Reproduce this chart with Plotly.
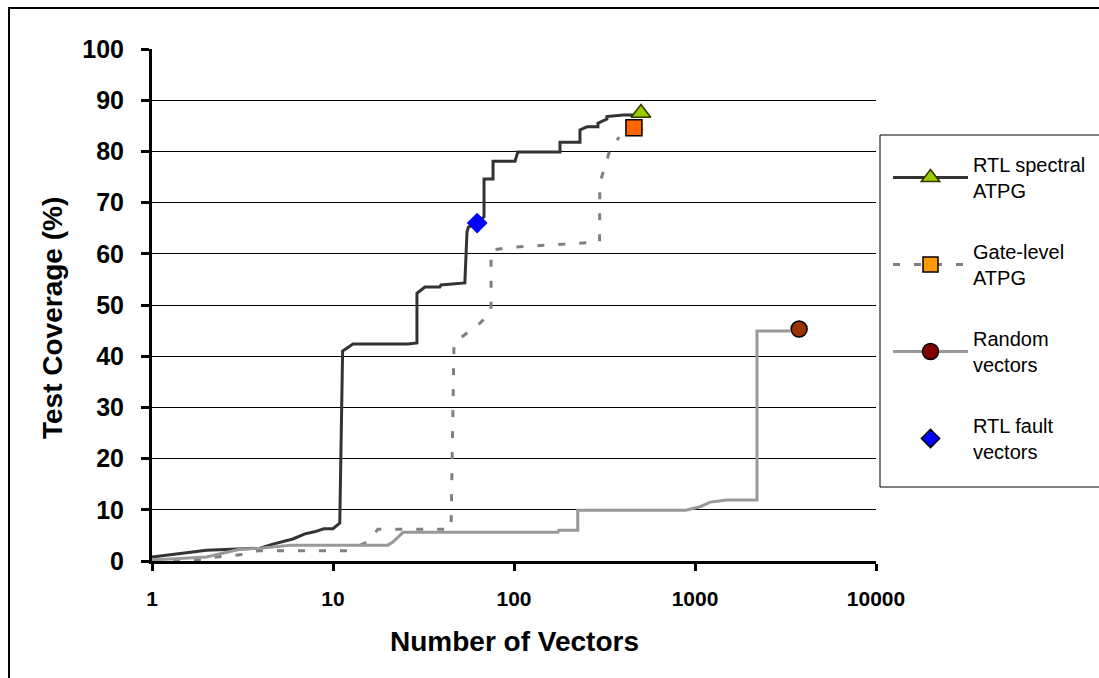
import plotly.graph_objects as go

# ---- data ----
rtl_x = [1, 2.0, 3.95, 4.66, 6.0, 7.0, 7.9, 8.9, 10.0, 10.9, 11.3, 11.8, 12.9, 25.9, 29.1, 29.1,
         32.2, 38.9, 39.5, 53.5, 55, 56, 62.6, 68.3, 68.3, 76.6, 76.6, 101.3, 105, 179.5, 179.5,
         231.5, 231.5, 253, 291, 291, 326, 326, 401, 454, 503]
rtl_y = [0.8, 2.1, 2.5, 3.3, 4.3, 5.3, 5.7, 6.3, 6.3, 7.4, 41, 41.5, 42.4, 42.4, 42.6, 52.3,
         53.5, 53.5, 53.9, 54.3, 64.3, 65.2, 66.0, 67.2, 74.6, 74.6, 78.1, 78.1, 79.9, 79.9, 81.8,
         81.8, 84.2, 84.8, 84.8, 85.5, 86.3, 86.8, 87.1, 87.1, 87.5]

gate_x = [1, 2.0, 2.28, 3.06, 3.85, 12.1, 15.4, 17.7, 43.2, 44.9, 46.6, 65.1, 74.7, 74.7,
          98.5, 224, 287, 297, 298, 318, 339, 381, 460]
gate_y = [0.2, 0.2, 0.8, 1.2, 2.0, 2.0, 3.7, 6.2, 6.2, 6.2, 42.6, 46.5, 48.6, 60.7,
          61.3, 62.1, 62.3, 62.3, 73.8, 77.0, 80.3, 82.8, 84.6]

rand_x = [1, 2.0, 3.06, 3.95, 5.9, 20.1, 21.4, 24.4, 175, 177, 225, 225, 888, 1067, 1215,
          1495, 2200, 2200, 3360, 3760]
rand_y = [0.2, 0.8, 2.3, 2.5, 3.1, 3.1, 3.7, 5.6, 5.6, 6.0, 6.0, 9.9, 9.9, 10.6, 11.5,
          11.9, 11.9, 44.9, 44.9, 45.3]

fault_x = [62.6]
fault_y = [66.0]

series_names = ["RTL spectral<br>ATPG", "Gate-level<br>ATPG", "Random<br>vectors", "RTL fault<br>vectors"]
x_ticks = [1, 10, 100, 1000, 10000]
x_tick_text = ["1", "10", "100", "1000", "10000"]
x_title = "Number of Vectors"
y_title = "Test Coverage (%)"

FONT = "Liberation Sans, Arial, sans-serif"

fig = go.Figure()

# curves
fig.add_trace(go.Scatter(x=rtl_x[:-1], y=rtl_y[:-1], mode="lines",
                         line=dict(color="#333333", width=3), showlegend=False))
fig.add_trace(go.Scatter(x=gate_x[:-1], y=gate_y[:-1], mode="lines",
                         line=dict(color="#808080", width=3, dash="7px,14px"), showlegend=False))
fig.add_trace(go.Scatter(x=rand_x[:-1], y=rand_y[:-1], mode="lines",
                         line=dict(color="#999999", width=3), showlegend=False))

# end markers
fig.add_trace(go.Scatter(x=rtl_x[-1:], y=rtl_y[-1:], mode="markers", showlegend=False,
                         marker=dict(symbol="triangle-up", size=17, color="#99cc00",
                                     line=dict(color="#333300", width=1.5))))
fig.add_trace(go.Scatter(x=gate_x[-1:], y=gate_y[-1:], mode="markers", showlegend=False,
                         marker=dict(symbol="square", size=16, color="#ff6600",
                                     line=dict(color="#000000", width=1.5))))
fig.add_trace(go.Scatter(x=rand_x[-1:], y=rand_y[-1:], mode="markers", showlegend=False,
                         marker=dict(symbol="circle", size=16, color="#993300",
                                     line=dict(color="#000000", width=1.5))))
fig.add_trace(go.Scatter(x=fault_x, y=fault_y, mode="markers", showlegend=False,
                         marker=dict(symbol="diamond", size=16, color="#0000ff",
                                     line=dict(color="#0000ff", width=0))))

# legend entries
fig.add_trace(go.Scatter(x=[None], y=[None], mode="lines+markers", name=series_names[0],
                         legendgroup="a",
                         line=dict(color="#333333", width=3),
                         marker=dict(symbol="triangle-up", size=16, color="#99cc00",
                                     line=dict(color="#333300", width=1.5))))
fig.add_trace(go.Scatter(x=[None], y=[None], mode="lines+markers", name=series_names[1],
                         legendgroup="b",
                         line=dict(color="#808080", width=3, dash="7px,14px"),
                         marker=dict(symbol="square", size=15, color="#ff9900",
                                     line=dict(color="#000000", width=1.5))))
fig.add_trace(go.Scatter(x=[None], y=[None], mode="lines+markers", name=series_names[2],
                         legendgroup="c",
                         line=dict(color="#999999", width=3),
                         marker=dict(symbol="circle", size=16, color="#800000",
                                     line=dict(color="#000000", width=1.5))))
fig.add_trace(go.Scatter(x=[None], y=[None], mode="markers", name=series_names[3],
                         legendgroup="d",
                         marker=dict(symbol="diamond", size=14, color="#0000ff",
                                     line=dict(color="#000000", width=1.5))))

W, H = 1099, 678
L, R, T, B = 152, 876, 49, 561
pw, ph = R - L, B - T

def px_x(p):
    return (p - L) / pw

def px_y(p):
    return (B - p) / ph

fig.update_layout(
    width=W, height=H,
    margin=dict(l=L, r=W - R, t=T, b=H - B, pad=0, autoexpand=False),
    paper_bgcolor="white", plot_bgcolor="white",
    font=dict(family=FONT, color="#000000"),
    showlegend=True,
    legend=dict(xref="container", yref="container",
                x=888 / W, y=1 - 145 / H, xanchor="left", yanchor="top",
                bgcolor="rgba(0,0,0,0)", borderwidth=0,
                font=dict(family=FONT, size=20, color="#000000"),
                tracegroupgap=32, itemwidth=75, valign="middle"),
    xaxis=dict(type="log", range=[0, 4], tickvals=x_ticks, ticktext=x_tick_text,
               showgrid=False, zeroline=False, showline=True, linecolor="#000000", linewidth=3,
               ticks="outside", ticklen=7, tickwidth=3, tickcolor="#000000",
               tickfont=dict(family=FONT, size=21, color="#000000", weight="bold"),
               ticklabelstandoff=10),
    yaxis=dict(range=[0, 100], dtick=10, tick0=0,
               showgrid=True, gridcolor="#000000", gridwidth=1,
               zeroline=False, showline=True, linecolor="#000000", linewidth=3,
               ticks="outside", ticklen=8, tickwidth=3, tickcolor="#000000",
               tickfont=dict(family=FONT, size=25, color="#000000", weight="bold"),
               ticklabelstandoff=12),
    annotations=[
        dict(text="<b>" + x_title + "</b>", xref="paper", yref="paper",
             x=px_x(514), y=px_y(641), xanchor="center", yanchor="middle",
             showarrow=False, font=dict(family=FONT, size=28, color="#000000")),
        dict(text="<b>" + y_title + "</b>", xref="paper", yref="paper",
             x=px_x(52), y=px_y(318), xanchor="center", yanchor="middle", textangle=-90,
             showarrow=False, font=dict(family=FONT, size=28, color="#000000")),
    ],
    shapes=[
        dict(type="rect", xref="paper", yref="paper",
             x0=px_x(9), x1=px_x(1115), y0=px_y(700), y1=px_y(8),
             line=dict(color="#000000", width=2), fillcolor="rgba(0,0,0,0)", layer="below"),
        dict(type="rect", xref="paper", yref="paper",
             x0=px_x(880), x1=px_x(1115), y0=px_y(487), y1=px_y(135),
             line=dict(color="#000000", width=1), fillcolor="rgba(0,0,0,0)", layer="above"),
    ],
)

fig.write_html("out.html")
